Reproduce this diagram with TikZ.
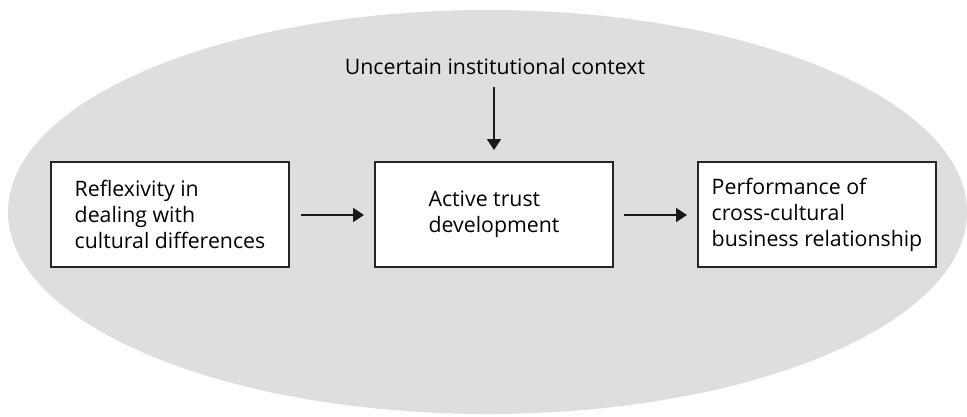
\documentclass[tikz,border=0pt]{standalone}
\usepackage{fontspec}
\setmainfont{Open Sans}
\usetikzlibrary{arrows.meta}
\definecolor{bggray}{HTML}{DDDEE0}
\tikzset{
  txt/.style={font=\fontsize{21.3pt}{26pt}\selectfont},
  box/.style={txt, draw=black!85, line width=1.3pt, fill=white, minimum width=238pt, minimum height=105pt, inner sep=0pt, align=left},
  conn/.style={line width=1.8pt, -{Triangle[length=11pt,width=14pt]}, black!90}
}
\begin{document}
\begin{tikzpicture}[x=1pt,y=-1pt]
\useasboundingbox (0,0) rectangle (967,416);
\fill[bggray] (487.5,212) ellipse [x radius=479.5, y radius=202];
\node[box] (refl) at (170,214.5) {Reflexivity in\\dealing with\\cultural differences};
\node[box] (trust) at (494,214.5) {Active trust\\development};
\node[box] (perf) at (817,214.5) {Performance of\\cross-cultural\\business relationship};
\node[txt, inner sep=0pt] (ctx) at (495,67) {Uncertain institutional context};
\coordinate (ctxend) at (494,87);
\draw[conn] (ctxend) -- (494,150);
\draw[conn] (301,215) -- (364,215);
\draw[conn] (624,215) -- (687,215);
\end{tikzpicture}
\end{document}
